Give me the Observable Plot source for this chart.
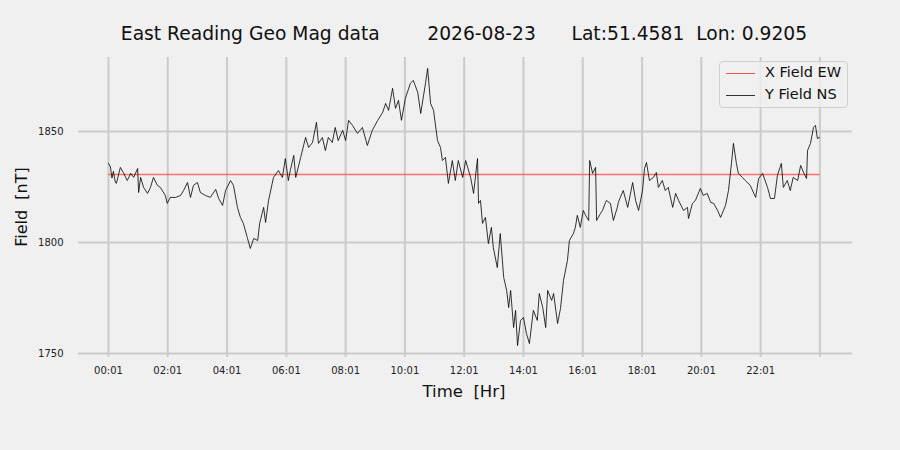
<!DOCTYPE html>
<html><head><meta charset="utf-8">
<script src="https://cdn.jsdelivr.net/npm/d3@7"></script>
<script src="https://cdn.jsdelivr.net/npm/@observablehq/plot@0.6"></script>
<style>
html,body{margin:0;padding:0;background:#f0f0f0;}
#wrap{position:relative;width:900px;height:450px;font-family:"DejaVu Sans",sans-serif;color:#111;}
#title{position:absolute;top:23px;left:0;width:928px;text-align:center;font-size:18.7px;white-space:pre;}
#ylab{position:absolute;left:21px;top:207px;transform:translate(-50%,-50%) rotate(-90deg);font-size:16px;white-space:pre;}
#xlab{position:absolute;left:0;width:928px;top:382px;text-align:center;font-size:16.5px;white-space:pre;}
#legend{position:absolute;left:719px;top:61px;width:127px;height:45px;border:1px solid #d0d0d0;border-radius:4px;background:rgba(240,240,240,0.8);font-size:14.5px;}
.lg{position:absolute;left:6px;height:1px;width:29px;}
.lt{position:absolute;left:45px;}
</style>
</head><body>
<div id="wrap">
<div id="chart"></div>
<div id="title"></div>
<div id="ylab"></div>
<div id="xlab"></div>
<div id="legend"></div>
</div>
<script>
const titleText = "East Reading Geo Mag data        2026-08-23      Lat:51.4581  Lon: 0.9205";
const yLabel = "Field  [nT]";
const xLabel = "Time  [Hr]";
const seriesNames = ["X Field EW", "Y Field NS"];
const seriesColors = ["#ff5050", "#333333"];

// minutes since 00:00
const yTimes = [1,5,8,11,15,17,25,31,39,46,52,60,62,66,72,80,86,92,100,106,116,120,126,137,147,153,161,167,173,181,187,197,207,218,224,232,238,248,254,262,268,274,282,288,295,303,307,315,319,325,335,345,353,359,365,369,376,380,390,400,406,414,422,426,434,440,446,454,460,466,475,481,487,495,505,515,525,535,546,556,562,568,576,582,588,594,602,612,618,627,633,643,647,653,659,667,673,677,683,689,697,703,709,718,724,734,740,748,750,754,758,764,770,776,780,788,794,801,807,811,815,821,825,829,835,841,847,853,861,869,873,880,886,890,898,902,910,916,922,930,934,942,946,950,956,962,969,973,975,981,987,989,997,1001,1007,1009,1017,1023,1031,1033,1037,1043,1052,1062,1068,1074,1082,1086,1090,1096,1104,1110,1114,1122,1128,1134,1143,1149,1155,1165,1173,1175,1183,1189,1199,1205,1213,1220,1226,1234,1240,1250,1256,1262,1266,1272,1276,1284,1290,1300,1311,1317,1325,1335,1341,1349,1355,1363,1367,1375,1381,1387,1396,1402,1408,1414,1416,1422,1428,1432,1436,1440];
const yValues = [1835.6,1834,1829,1832,1827,1826.6,1833.8,1831.5,1827.9,1831.1,1829.3,1833.3,1822.5,1829.3,1824.8,1822.1,1824.8,1829.3,1825.7,1824.8,1821.2,1817.6,1820.3,1820.3,1821.2,1823.4,1827.0,1820.3,1825.7,1827.0,1822.5,1821.2,1820.3,1823.9,1819.8,1816.7,1823.4,1827.9,1825.7,1815.8,1811.3,1808.6,1802.2,1797.3,1801.8,1800.9,1808.6,1815.8,1809.0,1818.9,1829.3,1832.4,1829.3,1837.8,1827.9,1832.4,1839.2,1829.3,1838.3,1847.3,1842.8,1845.0,1854.1,1844.6,1847.3,1841.4,1847.3,1845.0,1851.8,1845.9,1850.5,1845.9,1855.0,1852.7,1849.1,1851.8,1843.7,1850.5,1855.0,1858.6,1862.6,1859.5,1869.4,1860.4,1864.0,1855.0,1864.9,1871.6,1873.0,1867.6,1858.1,1872.1,1878.4,1862.6,1859.5,1845.9,1842.8,1836.9,1838.3,1826.6,1836.9,1827.9,1836.9,1829.3,1836.9,1829.3,1822.1,1837.8,1817.6,1818.9,1808.6,1811.3,1799.5,1806.8,1797.7,1788.7,1804.0,1784.2,1778.4,1770.7,1778.4,1761.7,1769.4,1753.6,1764.9,1766.2,1759.0,1754.5,1769.4,1764.9,1777.0,1770.7,1761.7,1778.4,1773.9,1777.0,1763.5,1770.3,1782.9,1791.9,1800.9,1804.0,1806.8,1812.2,1806.8,1814.4,1811.3,1809.9,1836.9,1831.1,1833.8,1809.9,1813.1,1814.4,1818.0,1818.9,1817.6,1809.9,1815.8,1818.0,1820.3,1823.4,1815.8,1827.0,1818.9,1814.4,1823.4,1833.3,1836.0,1827.9,1829.3,1831.5,1824.8,1827.9,1823.4,1824.8,1815.8,1822.1,1818.9,1814.4,1815.8,1810.8,1817.6,1818.9,1824.3,1821.2,1822.1,1818.0,1817.6,1814.4,1811.3,1816.7,1823.4,1835.6,1844.6,1835.6,1831.1,1829.3,1827.9,1825.7,1820.3,1828.8,1831.1,1824.8,1819.8,1819.8,1830.2,1835.6,1824.8,1827.9,1823.4,1829.3,1827.9,1834.7,1831.5,1828.8,1841.4,1844.6,1851.8,1852.7,1846.8,1847.3];

const xTimes = [1, 1440];
const xValues = [1830.6, 1830.6];

const xTicks = [1,121,241,361,481,601,721,841,961,1081,1201,1321,1441];
const xTickLabels = ["00:01","02:01","04:01","06:01","08:01","10:01","12:01","14:01","16:01","18:01","20:01","22:01",""];
const yTicks = [1750,1800,1850];

const yData = yTimes.map((t,i)=>({t, v:yValues[i]}));
const xData = xTimes.map((t,i)=>({t, v:xValues[i]}));

const chart = Plot.plot({
  width: 900, height: 450,
  marginLeft: 78, marginRight: 48, marginTop: 57, marginBottom: 97,
  style: {background:"#f0f0f0", fontFamily:"DejaVu Sans, sans-serif", fontSize:"10px", color:"#222"},
  x: {domain:[-59.7, 1507]},
  y: {domain:[1750, 1883.3]},
  marks: [
    Plot.gridX(xTicks, {stroke:"#cbcbcb", strokeOpacity:1, strokeWidth:2}),
    Plot.gridY(yTicks, {stroke:"#cbcbcb", strokeOpacity:1, strokeWidth:2}),
    Plot.axisX(xTicks, {tickSize:4, tickPadding:9, stroke:"#cbcbcb", strokeWidth:2, fill:"#222", tickFormat:(d)=>xTickLabels[xTicks.indexOf(d)], label:null}),
    Plot.axisY(yTicks, {tickSize:0, tickPadding:15, fill:"#222", tickFormat:(d)=>String(d), label:null}),
    Plot.line(xData, {x:"t", y:"v", stroke:seriesColors[0], strokeWidth:1.3, strokeOpacity:0.8}),
    Plot.line(yData, {x:"t", y:"v", stroke:"#000", strokeWidth:0.8})
  ]
});
document.getElementById("chart").appendChild(chart);
document.getElementById("title").textContent = titleText;
document.getElementById("ylab").textContent = yLabel;
document.getElementById("xlab").textContent = xLabel;
const lg = document.getElementById("legend");
seriesNames.forEach((n,i)=>{
  const y = 11 + i*22;
  const l = document.createElement("div"); l.className="lg";
  l.style.top = y+"px"; l.style.background = seriesColors[i];
  lg.appendChild(l);
  const t = document.createElement("div"); t.className="lt";
  t.style.top = (y-9)+"px"; t.textContent = n;
  lg.appendChild(t);
});
</script>
</body></html>
